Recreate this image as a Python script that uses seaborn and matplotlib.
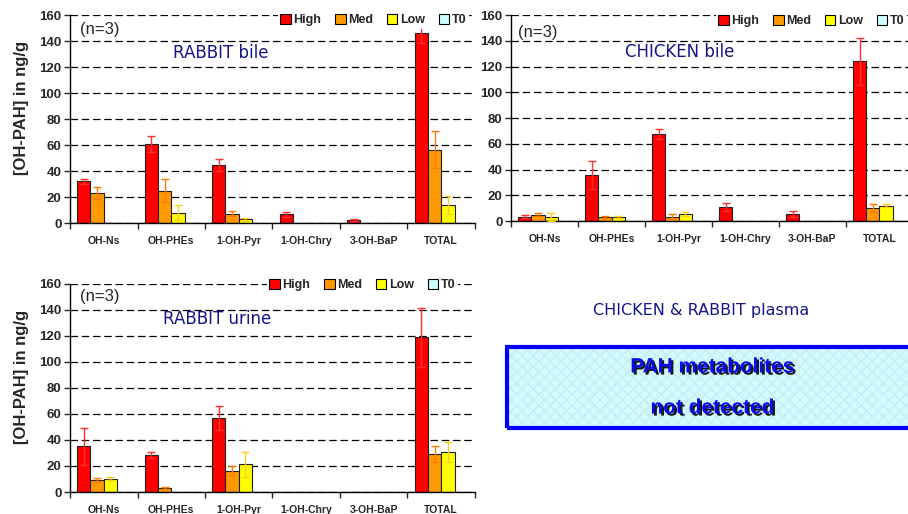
import numpy as np
import pandas as pd
import matplotlib
matplotlib.use("Agg")
import matplotlib.pyplot as plt
import matplotlib.patheffects as pe
from matplotlib.patches import Rectangle
from matplotlib.ticker import MultipleLocator, FixedLocator
import seaborn as sns

# ---- data -------------------------------------------------------------
compounds = ["OH-Ns", "OH-PHEs", "1-OH-Pyr", "1-OH-Chry", "3-OH-BaP", "TOTAL"]
doses = ["High", "Med", "Low", "T0"]

rabbit_bile_high = [32, 61, 45, 6.7, 2.3, 146.5]
rabbit_bile_med = [23, 25, 7.2, 0, 0, 56.5]
rabbit_bile_low = [0, 8, 2.8, 0, 0, 14]
rabbit_bile_t0 = [0, 0, 0, 0, 0, 0]
rabbit_bile_high_err = [2, 6, 4.6, 2, 1, 8]
rabbit_bile_med_err = [4.5, 9, 1.8, 0, 0, 14.5]
rabbit_bile_low_err = [0, 6, 1.3, 0, 0, 7]

chicken_bile_high = [3.4, 36, 67.8, 11, 5.4, 124]
chicken_bile_med = [4.9, 3.1, 3.4, 0, 0, 10]
chicken_bile_low = [3.4, 3.1, 5.2, 0, 0, 12]
chicken_bile_t0 = [0, 0, 0, 0, 0, 0]
chicken_bile_high_err = [1, 11, 4, 3, 2, 18.5]
chicken_bile_med_err = [1, 0.5, 2, 0, 0, 3]
chicken_bile_low_err = [3, 0.5, 1.5, 0, 0, 1]

rabbit_urine_high = [35, 28.4, 56.6, 0, 0, 119]
rabbit_urine_med = [9.5, 3.1, 16.4, 0, 0, 29]
rabbit_urine_low = [10.2, 0, 21.2, 0, 0, 30.5]
rabbit_urine_t0 = [0, 0, 0, 0, 0, 0]
rabbit_urine_high_err = [14.6, 2, 9.2, 0, 0, 22.5]
rabbit_urine_med_err = [1.5, 0.5, 3.3, 0, 0, 6]
rabbit_urine_low_err = [1.3, 0, 9.3, 0, 0, 7.7]

bar_colors = ["#FF0000", "#FF9900", "#FFFF00", "#CCFFFF"]
err_colors = ["#FF3030", "#FF7A00", "#FFCC22", "#99DDDD"]
title_color = "#14148C"

sns.set_style("white")
plt.rcParams["font.family"] = ["Liberation Sans", "DejaVu Sans"]


def long_frame(high, med, low, t0):
    rows = []
    for dose, vals in zip(doses, [high, med, low, t0]):
        for c, v in zip(compounds, vals):
            rows.append({"compound": c, "dose": dose, "value": v})
    return pd.DataFrame(rows)


def draw_panel(ax, values, errors, title, title_xy, n_xy, legend_xy,
               ylabel=True):
    df = long_frame(*values)
    sns.barplot(data=df, x="compound", y="value", hue="dose",
                order=compounds, hue_order=doses, palette=bar_colors,
                saturation=1, width=0.79, edgecolor="#202020", linewidth=0.8,
                errorbar=None, legend=False, ax=ax, zorder=2)
    # error bars on top of each bar
    for i, errs in enumerate(errors):
        cont = ax.containers[i]
        for bar, e in zip(cont, errs):
            if e <= 0:
                continue
            x = bar.get_x() + bar.get_width() / 2
            ax.errorbar(x, bar.get_height(), yerr=e, fmt="none",
                        ecolor=err_colors[i], elinewidth=1.0,
                        capsize=2.6, capthick=1.0, zorder=3)
    ax.set_ylim(0, 160)
    ax.set_xlim(-0.5, 5.5)
    ax.yaxis.set_major_locator(MultipleLocator(20))
    ax.yaxis.grid(True, linestyle=(0, (6, 3)), color="black", linewidth=0.9)
    ax.set_axisbelow(True)
    for s in ["top", "right"]:
        ax.spines[s].set_visible(False)
    for s in ["left", "bottom"]:
        ax.spines[s].set_color("black")
        ax.spines[s].set_linewidth(1.0)
    ax.tick_params(axis="y", which="major", length=4, width=1, direction="out",
                   left=True, labelsize=9.5, pad=2)
    for lbl in ax.get_yticklabels():
        lbl.set_fontweight("bold")
    ax.xaxis.set_minor_locator(FixedLocator(np.arange(-0.5, 6, 1)))
    ax.tick_params(axis="x", which="major", length=0, labelsize=7.5, pad=9)
    ax.tick_params(axis="x", which="minor", length=4, width=1, direction="out",
                   bottom=True)
    for lbl in ax.get_xticklabels():
        lbl.set_fontweight("bold")
    ax.set_xlabel("")
    if ylabel:
        ax.set_ylabel("[OH-PAH] in ng/g", fontsize=12, fontweight="bold")
        ax.yaxis.set_label_coords(-0.102, 0.553)
    else:
        ax.set_ylabel("")
    handles = [Rectangle((0, 0), 1, 1, facecolor=c, edgecolor="black", lw=0.8)
               for c in bar_colors]
    leg = ax.legend(handles, doses, ncol=4, loc="center right",
                    bbox_to_anchor=legend_xy, frameon=True,
                    handlelength=0.85, handleheight=0.85, handletextpad=0.2,
                    columnspacing=1.1, borderaxespad=0, borderpad=0.2,
                    prop={"weight": "bold", "size": 9})
    leg.get_frame().set_facecolor("white")
    leg.get_frame().set_edgecolor("none")
    leg.get_frame().set_alpha(1)
    leg.get_frame().set_boxstyle("square", pad=0)
    ax.text(n_xy[0], n_xy[1], "(n=3)", transform=ax.transAxes,
            fontsize=12, ha="left", va="center")
    ax.text(title_xy[0], title_xy[1], title, transform=ax.transAxes,
            fontsize=12, color=title_color, ha="center", va="center",
            family="DejaVu Sans")


fig = plt.figure(figsize=(9.08, 5.14), dpi=100)
ax1 = fig.add_axes([0.0771, 0.5661, 0.446, 0.4047])
ax2 = fig.add_axes([0.5628, 0.5700, 0.4427, 0.4008])
ax3 = fig.add_axes([0.0771, 0.0428, 0.446, 0.4047])

draw_panel(ax1,
           [rabbit_bile_high, rabbit_bile_med, rabbit_bile_low, rabbit_bile_t0],
           [rabbit_bile_high_err, rabbit_bile_med_err, rabbit_bile_low_err],
           "RABBIT bile", (0.373, 0.817), (0.025, 0.928), (0.985, 0.976))
draw_panel(ax2,
           [chicken_bile_high, chicken_bile_med, chicken_bile_low, chicken_bile_t0],
           [chicken_bile_high_err, chicken_bile_med_err, chicken_bile_low_err],
           "CHICKEN bile", (0.42, 0.82), (0.018, 0.917), (0.985, 0.972),
           ylabel=False)
draw_panel(ax3,
           [rabbit_urine_high, rabbit_urine_med, rabbit_urine_low, rabbit_urine_t0],
           [rabbit_urine_high_err, rabbit_urine_med_err, rabbit_urine_low_err],
           "RABBIT urine", (0.363, 0.832), (0.025, 0.9375), (0.958, 0.995))

# plasma note
fig.text(0.772, 1 - 311 / 514, "CHICKEN & RABBIT plasma", fontsize=11.5,
         color=title_color, ha="center", va="center", family="DejaVu Sans")
box_fill = Rectangle((0.558, 0.1673), 0.46, 0.1576, transform=fig.transFigure,
                     facecolor="#D4F8FC", edgecolor="#C2F0F5", hatch="xxx",
                     linewidth=0, zorder=1)
box_edge = Rectangle((0.558, 0.1673), 0.46, 0.1576, transform=fig.transFigure,
                     facecolor="none", edgecolor="#0000FF", linewidth=3, zorder=2)
fig.add_artist(box_fill)
fig.add_artist(box_edge)
shadow = [pe.SimplePatchShadow(offset=(1.5, -1.5), shadow_rgbFace="black",
                               alpha=0.9), pe.Normal()]
for txt, yy in [("PAH metabolites", 1 - 367 / 514), ("not detected", 1 - 408 / 514)]:
    fig.text(0.785, yy, txt, fontsize=15, fontweight="bold", color="#0A0AEE",
             ha="center", va="center", path_effects=shadow, zorder=3)

fig.savefig("out.png", dpi=100, facecolor="white")
